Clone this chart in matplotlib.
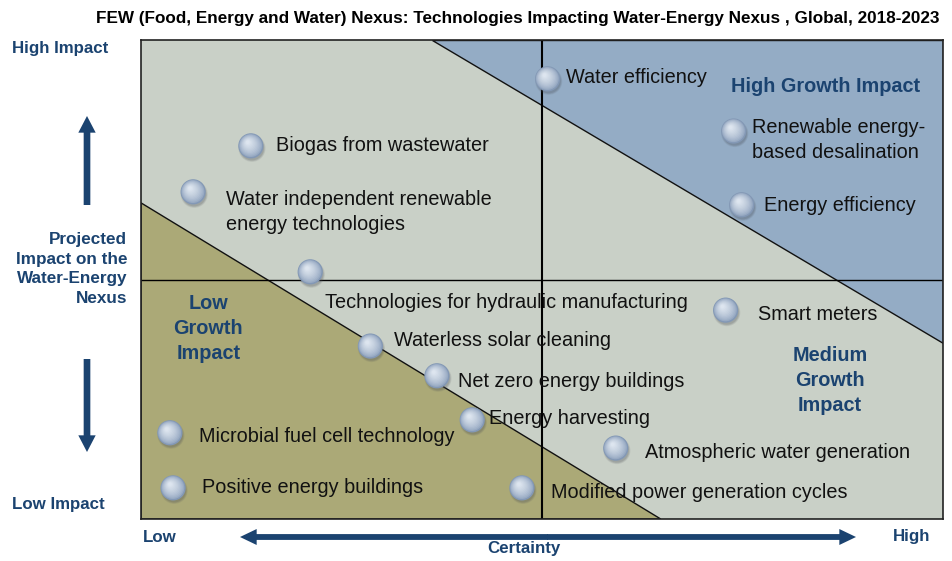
import matplotlib
matplotlib.use("Agg")
import matplotlib.pyplot as plt
import matplotlib.transforms as mtransforms
from matplotlib.patches import Polygon, FancyArrowPatch
import matplotlib.colors as mcolors
import numpy as np

plt.rcParams['font.family'] = ['Liberation Sans', 'DejaVu Sans']

# ---- data ----
technologies = [
    "Water efficiency",
    "Renewable energy-\nbased desalination",
    "Energy efficiency",
    "Biogas from wastewater",
    "Water independent renewable\nenergy technologies",
    "Technologies for hydraulic manufacturing",
    "Smart meters",
    "Waterless solar cleaning",
    "Net zero energy buildings",
    "Energy harvesting",
    "Microbial fuel cell technology",
    "Atmospheric water generation",
    "Positive energy buildings",
    "Modified power generation cycles",
]
certainty = [50.7, 73.9, 74.9, 13.7, 6.5, 21.1, 72.9, 28.6, 36.9, 41.3, 3.6, 59.2, 4.0, 47.5]
impact = [91.9, 81.0, 65.6, 77.9, 68.3, 51.6, 43.6, 36.1, 29.9, 20.7, 18.0, 14.8, 6.5, 6.5]

low_zone_x = [0, 64.8, 0]
low_zone_y = [66, 0, 0]
high_zone_x = [36.3, 100, 100]
high_zone_y = [100, 100, 36.7]
divider = 50

title = "FEW (Food, Energy and Water) Nexus: Technologies Impacting Water-Energy Nexus , Global, 2018-2023"

# label offsets (points) relative to the marker
label_offsets = [
    (13, 1), (13, -6.5), (16, -0.5), (18, 0), (24, -14.4), (11, -22), (23, -3),
    (17, 4), (15, -4), (12, 1), (21, -3), (21, -3), (21, 0), (21, -3),
]

W, H = 952, 561
fig = plt.figure(figsize=(W / 100, H / 100), dpi=100)
ax = fig.add_axes([141 / W, (H - 519) / H, 802 / W, 479 / H])
ax.set_xlim(0, 100)
ax.set_ylim(0, 100)
ax.set_facecolor('#c9d0c7')
for s in ax.spines.values():
    s.set_color('#222222')
    s.set_linewidth(1.2)
ax.set_xticks([])
ax.set_yticks([])

ax.add_patch(Polygon(list(zip(low_zone_x, low_zone_y)), closed=True,
                     facecolor='#aba977', edgecolor='#111111', lw=1.0, zorder=1))
ax.add_patch(Polygon(list(zip(high_zone_x, high_zone_y)), closed=True,
                     facecolor='#94acc5', edgecolor='#111111', lw=1.0, zorder=1))
ax.axvline(divider, color='black', lw=1.5, zorder=2)
ax.axhline(divider, color='black', lw=1.0, zorder=2)

# markers: shaded spheres built from layered circles
for k, a in enumerate([0.10, 0.12, 0.16]):
    sh = mtransforms.offset_copy(ax.transData, fig=fig, x=0.8, y=-1.8, units='points')
    ax.scatter(certainty, impact, s=380 - k * 40, color='#4a4f58', alpha=a,
               transform=sh, edgecolors='none', zorder=3)
c0 = np.array(mcolors.to_rgb('#8398b5'))
c1 = np.array(mcolors.to_rgb('#dde5ef'))
n = 12
for i in range(n):
    t = i / (n - 1)
    tr = mtransforms.offset_copy(ax.transData, fig=fig, x=-2.2 * t, y=2.6 * t, units='points')
    col = c0 + (c1 - c0) * t ** 0.6
    size = 330 if i == 0 else 330 * (1 - 0.85 * t) ** 2 * 0.97
    ax.scatter(certainty, impact, s=size,
               color=col, edgecolors='none', transform=tr, zorder=4 + i * 0.01)

for name, x, y, off in zip(technologies, certainty, impact, label_offsets):
    ax.annotate(name, (x, y), xytext=off, textcoords='offset points',
                ha='left', va='center', fontsize=14.3, color='#111111',
                linespacing=1.42, zorder=7)

navy = '#1b4370'
ax.text(85.3, 90.2, "High Growth Impact", ha='center', va='center', fontsize=14.3,
        fontweight='bold', color=navy, zorder=7)
ax.text(8.4, 39.8, "Low\nGrowth\nImpact", ha='center', va='center', fontsize=14.3,
        fontweight='bold', color=navy, linespacing=1.42, zorder=7)
ax.text(85.9, 28.9, "Medium\nGrowth\nImpact", ha='center', va='center', fontsize=14.3,
        fontweight='bold', color=navy, linespacing=1.42, zorder=7)

def fx(px):
    return px / W

def fy(py):
    return 1 - py / H

fig.text(fx(940), fy(18), title, ha='right', va='center', fontsize=12.3,
         fontweight='bold', color='black')
fig.text(fx(12), fy(48), "High Impact", ha='left', va='center', fontsize=12.2,
         fontweight='bold', color=navy)
fig.text(fx(12), fy(505), "Low Impact", ha='left', va='center', fontsize=12.2,
         fontweight='bold', color=navy)
fig.text(fx(127), fy(269), "Projected\nImpact on the\nWater-Energy\nNexus", ha='right',
         va='center', fontsize=12.3, fontweight='bold', color=navy, linespacing=1.4)
fig.text(fx(143), fy(537), "Low", ha='left', va='center', fontsize=12.2,
         fontweight='bold', color=navy)
fig.text(fx(930), fy(537), "High", ha='right', va='center', fontsize=12.2,
         fontweight='bold', color=navy)
fig.text(fx(524), fy(549), "Certainty", ha='center', va='center', fontsize=12.2,
         fontweight='bold', color=navy)

vstyle = 'simple,head_width=12.5,head_length=12,tail_width=4.8'
hstyle = 'simple,head_width=11.5,head_length=12,tail_width=4.2'
arrow_kw = dict(transform=fig.transFigure, color=navy, lw=0, mutation_scale=1,
                shrinkA=0, shrinkB=0)
fig.patches.append(FancyArrowPatch((fx(87), fy(205)), (fx(87), fy(116)),
                                   arrowstyle=vstyle, **arrow_kw))
fig.patches.append(FancyArrowPatch((fx(87), fy(359)), (fx(87), fy(452)),
                                   arrowstyle=vstyle, **arrow_kw))
fig.patches.append(FancyArrowPatch((fx(548), fy(537)), (fx(240), fy(537)),
                                   arrowstyle=hstyle, **arrow_kw))
fig.patches.append(FancyArrowPatch((fx(547), fy(537)), (fx(856), fy(537)),
                                   arrowstyle=hstyle, **arrow_kw))

fig.savefig('out.png', dpi=100)
